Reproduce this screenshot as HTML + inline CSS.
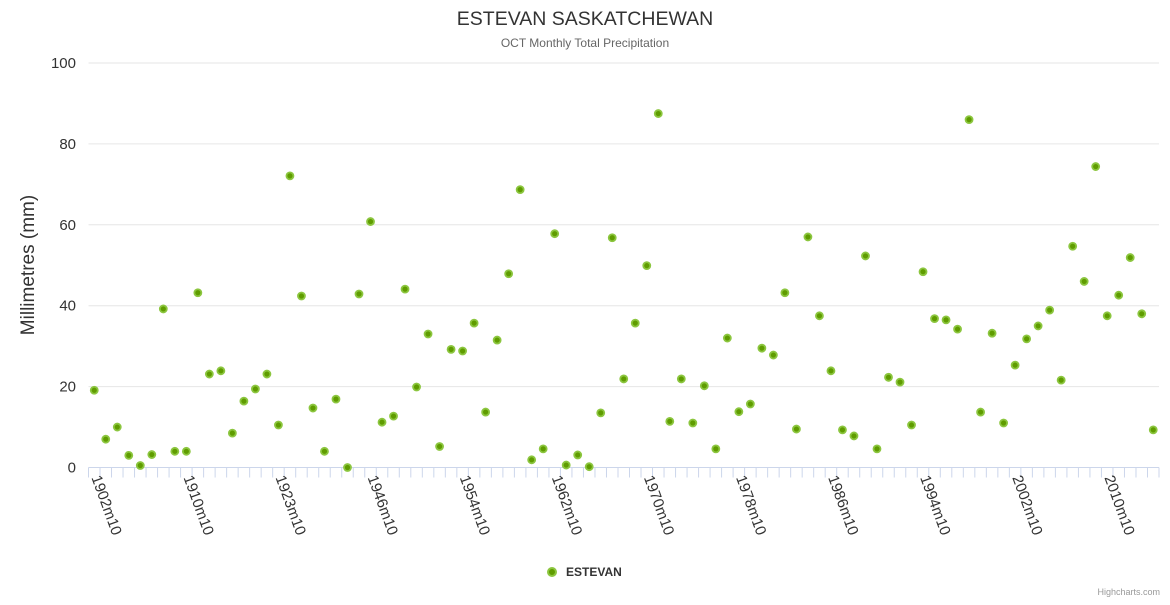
<!DOCTYPE html>
<html><head><meta charset="utf-8"><style>
body{margin:0;background:#fff;font-family:"Liberation Sans",sans-serif}
</style></head><body>
<svg id="chart" width="1170" height="600" xmlns="http://www.w3.org/2000/svg" font-family="Liberation Sans, sans-serif">
<text x="585" y="25" text-anchor="middle" font-size="19.5" fill="#333">ESTEVAN SASKATCHEWAN</text>
<text x="585" y="47" text-anchor="middle" font-size="12" fill="#666">OCT Monthly Total Precipitation</text>
<text transform="translate(34,265) rotate(-90)" text-anchor="middle" font-size="19" fill="#333">Millimetres (mm)</text>
<g id="grid"></g><g id="xaxis"></g><g id="pts"></g>
<g>
<circle cx="552" cy="572" r="4" fill="#5f9c00" stroke="#8cc63f" stroke-width="2"/>
<text x="566" y="576" font-size="12" font-weight="bold" fill="#333">ESTEVAN</text>
</g>
<text x="1160" y="595" text-anchor="end" font-size="9" fill="#999">Highcharts.com</text>
</svg>
<script>
const tickLabels = ["1902m10","1910m10","1923m10","1946m10","1954m10","1962m10","1970m10","1978m10","1986m10","1994m10","2002m10","2010m10"];
const values = [19.1,7,10,3,0.5,3.2,39.2,4,4,43.2,23.1,23.9,8.5,16.4,19.4,23.1,10.5,72.1,42.4,14.7,4,16.9,0,42.9,60.8,11.2,12.7,44.1,19.9,33,5.2,29.2,28.8,35.7,13.7,31.5,47.9,68.7,1.9,4.6,57.8,0.6,3.1,0.2,13.5,56.8,21.9,35.7,49.9,87.5,11.4,21.9,11,20.2,4.6,32,13.8,15.7,29.5,27.8,43.2,9.5,57,37.5,23.9,9.3,7.8,52.3,4.6,22.3,21.1,10.5,48.4,36.8,36.5,34.2,86,13.7,33.2,11,25.3,31.8,35,38.9,21.6,54.7,46,74.4,37.5,42.6,51.9,38,9.3];
const yTicks = [0,20,40,60,80,100];
const tickEvery = 8;
const categories = values.map((v,i)=> i%tickEvery===0 ? tickLabels[i/tickEvery] : "");
const NS="http://www.w3.org/2000/svg";
const L=88.5,R=1159,T=63,B=467.5;
const n=values.length, step=(R-L)/n;
const x=i=>L+step*(i+0.5);
const y=v=>B-(v/100)*(B-T);
function mk(tag,attrs,parent){const e=document.createElementNS(NS,tag);for(const k in attrs)e.setAttribute(k,attrs[k]);parent.appendChild(e);return e;}
const grid=document.getElementById('grid'),xa=document.getElementById('xaxis'),pts=document.getElementById('pts');
yTicks.forEach(t=>{
  if(t>0){const g=mk('line',{x1:L,x2:R,y1:y(t),y2:y(t),stroke:'#e6e6e6'},grid);
  
  }
  const tx=mk('text',{x:76,y:y(t)+5,'text-anchor':'end','font-size':15,fill:'#333'},grid);
  tx.textContent=t;
  
  
});
const ax=mk('line',{x1:L,x2:R,y1:B,y2:B,stroke:'#ccd6eb'},xa);


for(let i=0;i<=n;i++){
  const tk=mk('line',{x1:L+step*i,x2:L+step*i,y1:B,y2:B+10,stroke:'#ccd6eb'},xa);
  
  
}
categories.forEach((c,i)=>{
  if(!c)return;
  const t=mk('text',{transform:`translate(${x(i)-3},${B+10}) rotate(70)`,'font-size':15,fill:'#333'},xa);
  t.textContent=c;
  
  
});
values.forEach((v,i)=>{
  const c=mk('circle',{cx:x(i),cy:y(v),r:3.5,fill:'#5f9c00',stroke:'#8cc63f','stroke-width':1.8},pts);
  
  
});
</script>
</body></html>
